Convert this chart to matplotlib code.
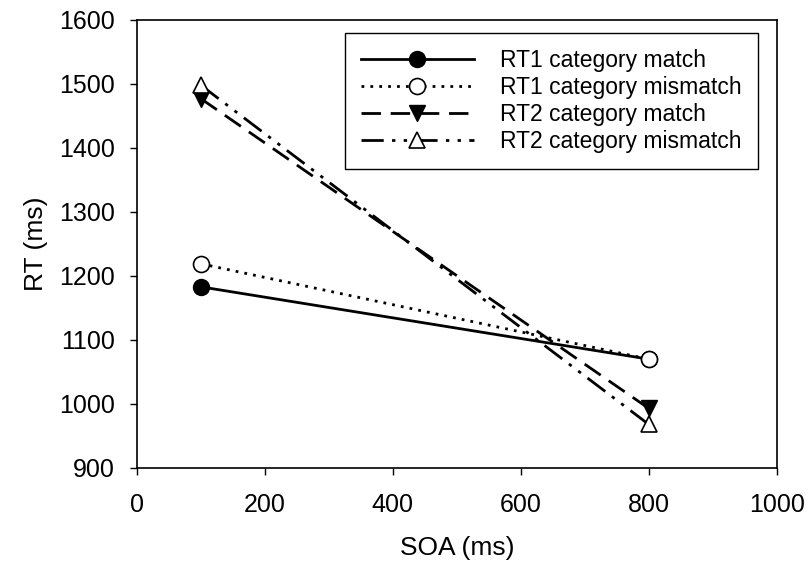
import matplotlib
matplotlib.use("Agg")
import matplotlib.pyplot as plt

plt.rcParams["font.family"] = ["Liberation Sans", "DejaVu Sans"]

# ----------------- Data -----------------
soa = [100, 800]
rt1_match = [1183, 1070]
rt1_mismatch = [1219, 1070]
rt2_match = [1477, 993]
rt2_mismatch = [1498, 968]

fig = plt.figure(figsize=(8.1, 5.7), dpi=100)
ax = fig.add_axes([0.169, 0.179, 0.790, 0.786])

ax.plot(soa, rt1_match, color="black", lw=2, linestyle="-",
        marker="o", ms=11.5, mfc="black", mec="black", label="RT1 category match")
ax.plot(soa, rt1_mismatch, color="black", lw=2, linestyle=(0, (1, 2.2)),
        marker="o", ms=11.5, mfc="white", mec="black", mew=1.2, label="RT1 category mismatch")
ax.plot(soa, rt2_match, color="black", lw=2, linestyle=(0, (7, 3.5)),
        marker="v", ms=11.5, mfc="black", mec="black", label="RT2 category match")
ax.plot(soa, rt2_mismatch, color="black", lw=2, linestyle=(0, (8, 3, 1.2, 3, 1.2, 3)),
        marker="^", ms=11.5, mfc="white", mec="black", mew=1.2, label="RT2 category mismatch")

ax.set_xlim(0, 1000)
ax.set_ylim(900, 1600)
ax.set_xticks(range(0, 1001, 200))
ax.set_yticks(range(900, 1601, 100))
ax.tick_params(direction="out", length=5, width=1, labelsize=18, top=False, right=False)
ax.tick_params(axis="x", pad=13)
ax.tick_params(axis="y", pad=11)
for s in ax.spines.values():
    s.set_linewidth(1.2)

ax.set_xlabel("SOA (ms)", fontsize=19, labelpad=14)
ax.set_ylabel("RT (ms)", fontsize=19, labelpad=8)

leg = ax.legend(loc="upper right", bbox_to_anchor=(0.970, 0.971), borderaxespad=0,
                fontsize=16.5, handlelength=4.9, handletextpad=1.15, fancybox=False,
                framealpha=1, edgecolor="black", labelspacing=0.18, borderpad=0.7)
leg.get_frame().set_linewidth(1)

fig.savefig("out.png", dpi=100)
